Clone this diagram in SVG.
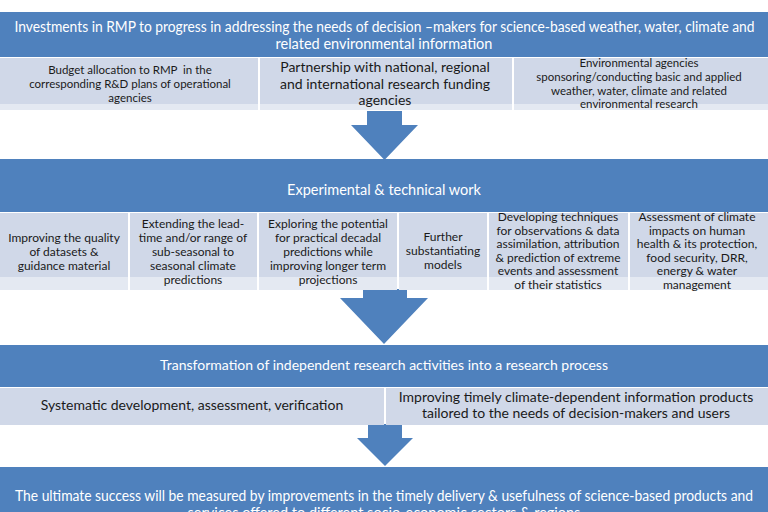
<svg xmlns="http://www.w3.org/2000/svg" width="768" height="512" viewBox="0 0 768 512">
<style>
.band{fill:#4F81BD}
.cell{fill:#D0D8E8}
.strip{fill:#E4E9F2}
.arrow{fill:#4F81BD}
text{font-family:Lato,"Liberation Sans",sans-serif;text-anchor:middle}
.wt{fill:#FFFFFF;font-size:14.5px}
.bt{fill:#1A1A1A}
.s12{font-size:11.5px}
.s14{font-size:14px}
.s125{font-size:12px}
</style>
<rect width="768" height="512" fill="#FFFFFF"/>

<g id="connectors">
<polygon class="arrow" points="367,111 402,111 402,125 418,125 384.5,160 351,125 367,125"/>
<polygon class="arrow" points="363,289 407,289 407,298 428,298 384,344 340,298 363,298"/>
<polygon class="arrow" points="368,424 402,424 402,438 413,438 385,466 357,438 368,438"/>
</g>

<g id="band1">
<rect class="band" x="0" y="12" width="768" height="45"/>
<text class="wt" x="384.5" y="32" textLength="740" lengthAdjust="spacingAndGlyphs">Investments in RMP to progress in addressing the needs of decision –makers for science-based weather, water, climate and</text>
<text class="wt" x="384" y="49">related environmental information</text>
</g>

<g id="budget">
<rect class="cell" x="0" y="58" width="258" height="46"/>
<rect class="strip" x="0" y="104" width="258" height="6"/>
<text class="bt s12" x="130"><tspan x="130" y="74">Budget allocation to RMP&#160; in the</tspan><tspan x="130" y="88">corresponding R&amp;D plans of operational</tspan><tspan x="130" y="102">agencies</tspan></text>
</g>
<g id="partnership">
<rect class="cell" x="260" y="58" width="252" height="46"/>
<rect class="strip" x="260" y="104" width="252" height="6"/>
<text class="bt s14" x="385"><tspan x="385" y="72">Partnership with national, regional</tspan><tspan x="385" y="89">and international research funding</tspan><tspan x="385" y="105">agencies</tspan></text>
</g>
<g id="environmental">
<rect class="cell" x="514" y="58" width="254" height="46"/>
<rect class="strip" x="514" y="104" width="254" height="6"/>
<text class="bt s12" x="639"><tspan x="639" y="67">Environmental agencies</tspan><tspan x="639" y="81">sponsoring/conducting basic and applied</tspan><tspan x="639" y="94.5">weather, water, climate and related</tspan><tspan x="639" y="108">environmental research</tspan></text>
</g>

<g id="band2">
<rect class="band" x="0" y="159" width="768" height="53"/>
<text class="wt" x="384" y="195">Experimental &amp; technical work</text>
</g>

<g id="datasets">
<rect class="cell" x="0" y="213" width="128" height="64"/>
<rect class="strip" x="0" y="277" width="128" height="13"/>
<text class="bt s125"><tspan x="64" y="242">Improving the quality</tspan><tspan x="64" y="256">of datasets &amp;</tspan><tspan x="64" y="270">guidance material</tspan></text>
</g>
<g id="leadtime">
<rect class="cell" x="130" y="213" width="127" height="64"/>
<rect class="strip" x="130" y="277" width="127" height="13"/>
<text class="bt s125"><tspan x="193" y="228">Extending the lead-</tspan><tspan x="193" y="242">time and/or range of</tspan><tspan x="193" y="256">sub-seasonal to</tspan><tspan x="193" y="270">seasonal climate</tspan><tspan x="193" y="284">predictions</tspan></text>
</g>
<g id="decadal">
<rect class="cell" x="259" y="213" width="138" height="64"/>
<rect class="strip" x="259" y="277" width="138" height="13"/>
<text class="bt s125"><tspan x="328" y="228">Exploring the potential</tspan><tspan x="328" y="242">for practical decadal</tspan><tspan x="328" y="256">predictions while</tspan><tspan x="328" y="270">improving longer term</tspan><tspan x="328" y="284">projections</tspan></text>
</g>
<g id="models">
<rect class="cell" x="399" y="213" width="88" height="64"/>
<rect class="strip" x="399" y="277" width="88" height="13"/>
<text class="bt s125"><tspan x="443" y="241">Further</tspan><tspan x="443" y="255">substantiating</tspan><tspan x="443" y="269">models</tspan></text>
</g>
<g id="techniques">
<rect class="cell" x="489" y="213" width="139" height="64"/>
<rect class="strip" x="489" y="277" width="139" height="13"/>
<text class="bt s125"><tspan x="558" y="221">Developing techniques</tspan><tspan x="558" y="234.5">for observations &amp; data</tspan><tspan x="558" y="248">assimilation, attribution</tspan><tspan x="558" y="261.5">&amp; prediction of extreme</tspan><tspan x="558" y="275">events and assessment</tspan><tspan x="558" y="288.5">of their statistics</tspan></text>
</g>
<g id="impacts">
<rect class="cell" x="630" y="213" width="138" height="64"/>
<rect class="strip" x="630" y="277" width="138" height="13"/>
<text class="bt s125"><tspan x="697" y="221">Assessment of climate</tspan><tspan x="697" y="234.5">impacts on human</tspan><tspan x="697" y="248">health &amp; its protection,</tspan><tspan x="697" y="261.5">food security, DRR,</tspan><tspan x="697" y="275">energy &amp; water</tspan><tspan x="697" y="288.5">management</tspan></text>
</g>

<g id="band3">
<rect class="band" x="0" y="345" width="768" height="42"/>
<text class="wt" x="384" y="370" style="font-size:14px">Transformation of independent research activities into a research process</text>
</g>

<g id="systematic">
<rect class="cell" x="0" y="388" width="384" height="37"/>
<text class="bt s14" x="192" y="410">Systematic development, assessment, verification</text>
</g>
<g id="products">
<rect class="cell" x="386" y="388" width="382" height="37"/>
<text class="bt s14"><tspan x="576" y="402">Improving timely climate-dependent information products</tspan><tspan x="576" y="418">tailored to the needs of decision-makers and users</tspan></text>
</g>

<g id="band4">
<rect class="band" x="0" y="467" width="768" height="45"/>
<text class="wt" x="384" y="501" textLength="738" lengthAdjust="spacingAndGlyphs">The ultimate success will be measured by improvements in the timely delivery &amp; usefulness of science-based products and</text>
<text class="wt" x="384" y="518">services offered to different socio-economic sectors &amp; regions</text>
</g>
</svg>
